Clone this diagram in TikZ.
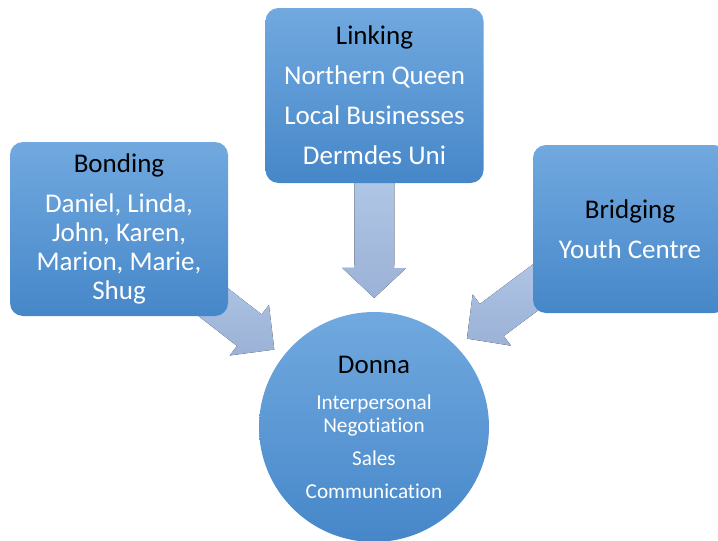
\documentclass[tikz,border=0pt]{standalone}
\usepackage{fontspec}
\setmainfont[Ligatures=NoCommon]{Carlito}
\usetikzlibrary{calc,backgrounds}
\definecolor{boxtop}{HTML}{71A9DF}
\definecolor{boxbot}{HTML}{4687C9}
\definecolor{arrtop}{HTML}{B7CEEB}
\definecolor{arrbot}{HTML}{9BB1D6}
\tikzset{
    capital/.style={rounded corners=13pt, top color=boxtop, bottom color=boxbot,
        text=white, align=center, minimum width=218pt,
        font=\fontsize{27}{29}\selectfont},
    person/.style={circle, top color=boxtop, bottom color=boxbot, text=white,
        align=center, minimum size=230pt, inner sep=0pt,
        font=\fontsize{21.2}{23}\selectfont},
    arrowfill/.style={top color=arrtop, bottom color=arrbot}
}
\newcommand{\feedarrow}[4]{%
    \coordinate (s) at ($(#1)!40pt!(#2)$);
    \coordinate (h) at ($(#1)!#3!(#2)$);
    \coordinate (t) at ($(#1)!#4!(#2)$);
    \fill[arrowfill] ($(s)!20pt!90:(#2)$) -- ($(h)!20pt!90:(#2)$) -- ($(h)!32pt!90:(#2)$)
        -- (t) -- ($(h)!32pt!-90:(#2)$) -- ($(h)!20pt!-90:(#2)$) -- ($(s)!20pt!-90:(#2)$) -- cycle;
}
\begin{document}
\begin{tikzpicture}[x=1pt, y=-1pt]
    \clip (0,0) rectangle (718,541);
    \node[capital, minimum height=174pt] (bond) at (119,229)
        {\textcolor{black}{Bonding}\\[11pt]Daniel, Linda,\\John, Karen,\\Marion, Marie,\\Shug};
    \node[capital, minimum height=175pt] (link) at (374.5,95.5)
        {\textcolor{black}{Linking}\\[11pt]Northern Queen\\[11pt]Local Businesses\\[11pt]Dermdes Uni};
    \node[capital, minimum width=194pt, minimum height=168pt] (bridge) at (630,229)
        {\textcolor{black}{Bridging}\\[11pt]Youth Centre};
    \node[person] (donna) at (374,427)
        {\textcolor{black}{\fontsize{27}{29}\selectfont Donna}\\[13pt]Interpersonal\\Negotiation\\[10pt]Sales\\[10pt]Communication};
    \coordinate (bridgeout) at ([yshift=12.2pt]bridge.center);
    \coordinate (donnain) at ([yshift=19pt]donna.center);
    \begin{scope}[on background layer]
        \feedarrow{bond.center}{donna.center}{165pt}{196.6pt}
        \feedarrow{link.center}{donna.center}{172.5pt}{202.5pt}
        \feedarrow{bridgeout}{donnain}{172.5pt}{203.5pt}
    \end{scope}
\end{tikzpicture}
\end{document}
